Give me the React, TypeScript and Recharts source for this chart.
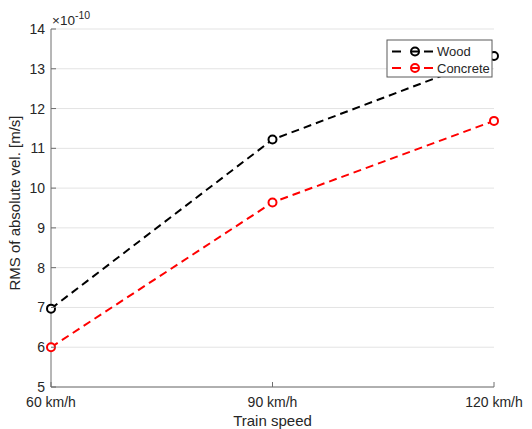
import React from 'react';
import {
  CartesianGrid,
  Customized,
  Line,
  LineChart,
  XAxis,
  YAxis,
} from 'recharts';

const speeds = ['60 km/h', '90 km/h', '120 km/h'];
const wood = [6.97, 11.22, 13.32];
const concrete = [6.0, 9.64, 11.69];
const yTicks = [5, 6, 7, 8, 9, 10, 11, 12, 13, 14];
const legendItems = [
  { name: 'Wood', color: '#000000' },
  { name: 'Concrete', color: '#ff0000' },
];

const data = speeds.map((speed, i) => ({
  speed,
  wood: wood[i],
  concrete: concrete[i],
}));

const FONT = '"Liberation Sans", Arial, Helvetica, sans-serif';
const TEXT = '#262626';
const AXIS = '#6e6e6e';

const XTick = (props: any) => {
  const { x, y, payload } = props;
  return (
    <g>
      <line x1={x} x2={x} y1={y} y2={y - 5} stroke={AXIS} />
      <text x={x} y={y + 20} textAnchor="middle" fill={TEXT} fontSize={14} fontFamily={FONT}>
        {payload.value}
      </text>
    </g>
  );
};

const YTick = (props: any) => {
  const { x, y, payload } = props;
  return (
    <g>
      <line x1={x} x2={x + 5} y1={y} y2={y} stroke={AXIS} />
      <text x={x - 6} y={y + 5} textAnchor="end" fill={TEXT} fontSize={14} fontFamily={FONT}>
        {payload.value}
      </text>
    </g>
  );
};

// legend sits on top of the lines, like the matlab one
const LegendBox = () => (
  <svg
    width={107}
    height={39}
    style={{ position: 'absolute', left: 386, top: 39, display: 'block' }}
  >
    <rect x={1} y={1} width={105} height={37} fill="#fff" stroke="#5a5a5a" />
    {legendItems.map((r, i) => {
      const cy = 12.5 + i * 16.5;
      return (
        <g key={r.name}>
          <line x1={6} x2={15} y1={cy} y2={cy} stroke={r.color} strokeWidth={2} />
          <circle cx={29} cy={cy} r={4} fill="#fff" stroke={r.color} strokeWidth={2} />
          <line x1={25} x2={33} y1={cy} y2={cy} stroke={r.color} strokeWidth={2} />
          <line x1={38} x2={47} y1={cy} y2={cy} stroke={r.color} strokeWidth={2} />
          <text x={51} y={cy + 4.5} fontSize={13} fontFamily={FONT} fill={TEXT}>
            {r.name}
          </text>
        </g>
      );
    })}
  </svg>
);

const Exponent = () => (
  <text x={52} y={25} fontFamily={FONT} fill={TEXT} fontSize={13.5}>
    ×10
    <tspan dy={-6} fontSize={10.5}>-10</tspan>
  </text>
);

export default function App() {
  return (
    <div style={{ position: 'absolute', left: 0, top: 0, width: 532, height: 429, background: '#fff' }}>
      <LineChart
        width={532}
        height={429}
        data={data}
        margin={{ top: 29, right: 38, bottom: 0, left: 0 }}
      >
        <CartesianGrid vertical={false} stroke="#e3e3e3" />
        <XAxis
          dataKey="speed"
          type="category"
          padding={{ left: 0, right: 0 }}
          height={42}
          stroke={AXIS}
          tickLine={false}
          tickSize={0}
          tickMargin={0}
          tick={<XTick />}
          interval={0}
          label={{
            content: () => (
              <text x={272.5} y={426} textAnchor="middle" fill={TEXT} fontSize={15} fontFamily={FONT}>
                Train speed
              </text>
            ),
          }}
        />
        <YAxis
          type="number"
          domain={[5, 14]}
          ticks={yTicks}
          width={51}
          stroke={AXIS}
          tickLine={false}
          tickSize={0}
          tickMargin={0}
          tick={<YTick />}
          interval={0}
          allowDataOverflow
          label={{
            content: () => (
              <text
                x={16}
                y={203}
                transform="rotate(-90 16 203)"
                textAnchor="middle"
                dominantBaseline="middle"
                fill={TEXT}
                fontSize={15}
                fontFamily={FONT}
              >
                RMS of absolute vel. [m/s]
              </text>
            ),
          }}
        />
        <Customized component={Exponent} />
        <Line
          dataKey="wood"
          name="Wood"
          stroke="#000000"
          strokeWidth={2}
          strokeDasharray="8 5"
          dot={{ r: 4, fill: '#fff', stroke: '#000000', strokeWidth: 2, strokeDasharray: '' }}
          isAnimationActive={false}
        />
        <Line
          dataKey="concrete"
          name="Concrete"
          stroke="#ff0000"
          strokeWidth={2}
          strokeDasharray="8 5"
          dot={{ r: 4, fill: '#fff', stroke: '#ff0000', strokeWidth: 2, strokeDasharray: '' }}
          isAnimationActive={false}
        />
      </LineChart>
      <LegendBox />
    </div>
  );
}
